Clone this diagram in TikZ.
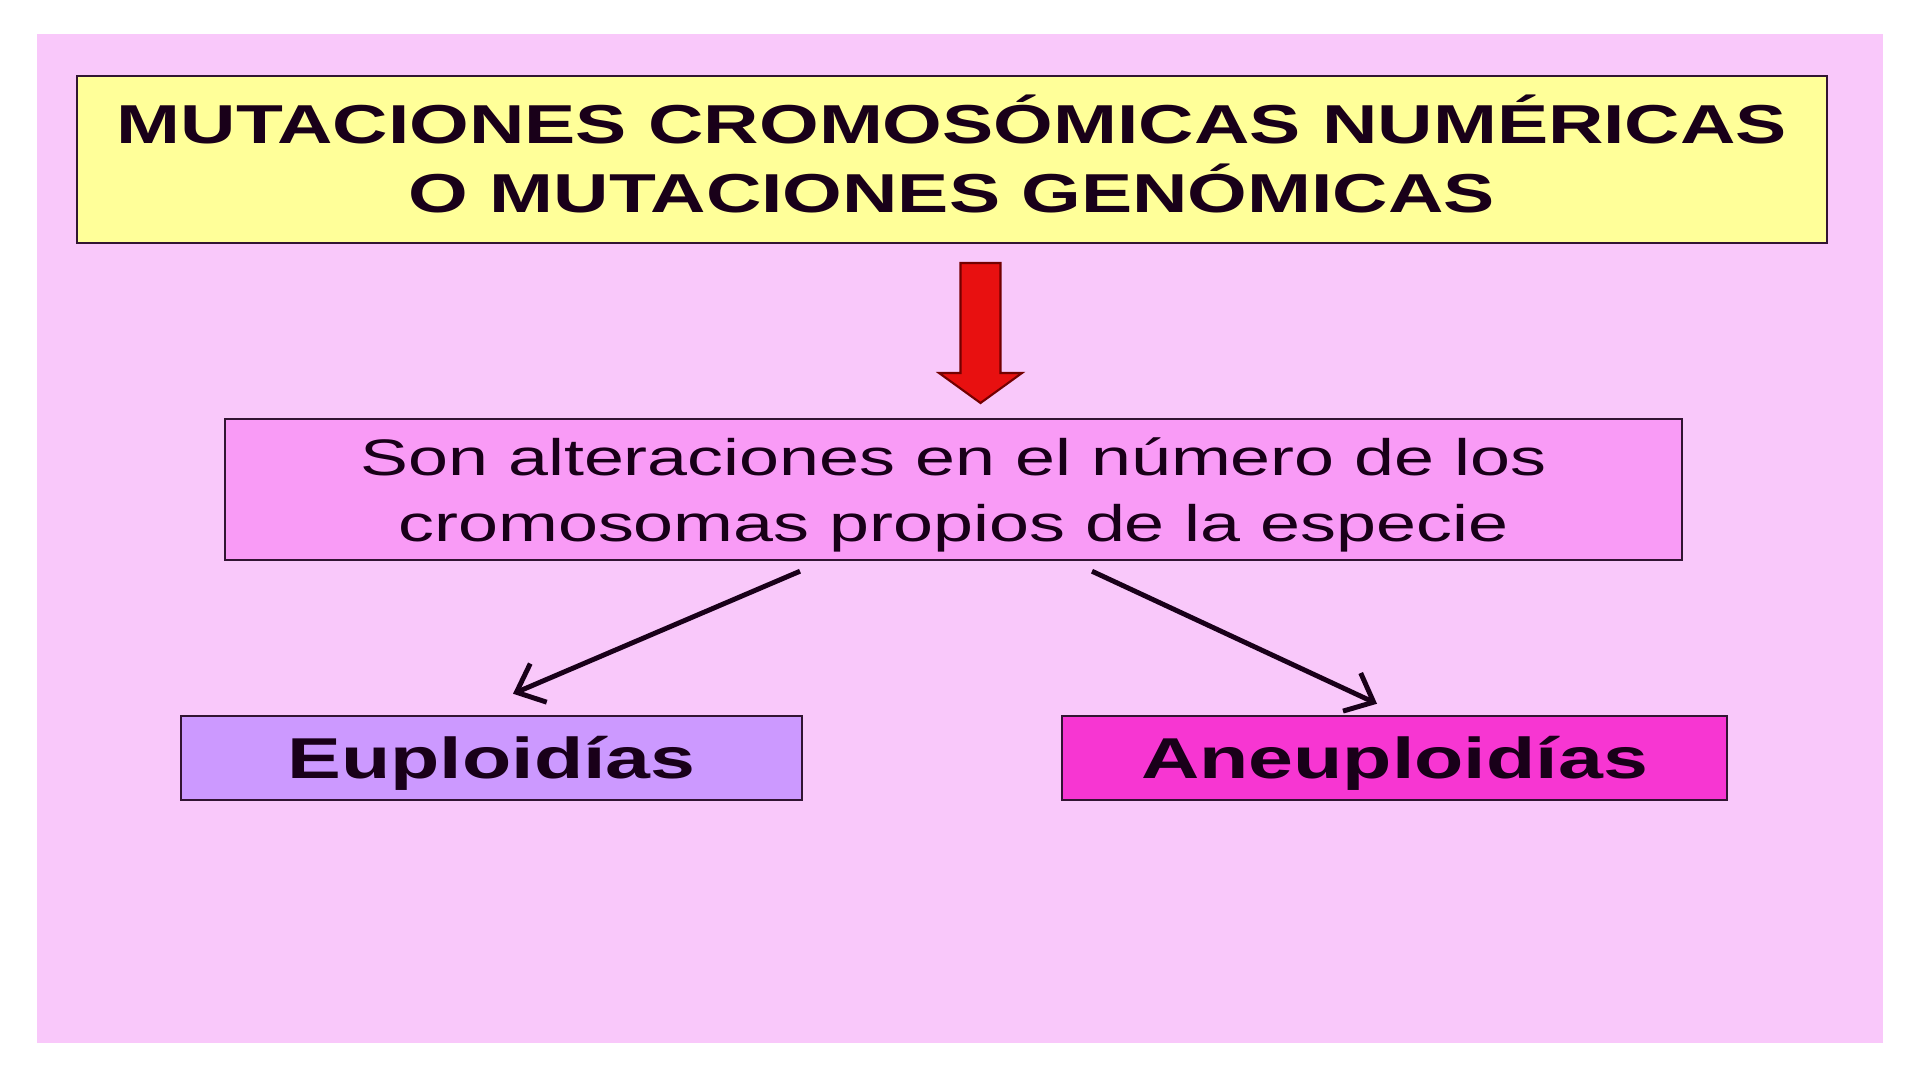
\documentclass[tikz,border=0pt]{standalone}
\usepackage{fontspec}
\setmainfont{Liberation Sans}[FakeStretch=1.4]
\usetikzlibrary{arrows.meta}

\definecolor{slidebg}{RGB}{249,200,250}
\definecolor{titlefill}{RGB}{255,255,153}
\definecolor{deffill}{RGB}{249,155,246}
\definecolor{eupfill}{RGB}{204,153,255}
\definecolor{anefill}{RGB}{247,54,210}
\definecolor{edge}{RGB}{50,20,50}
\definecolor{txt}{RGB}{25,0,25}

% lower a text inside its box, keeping the box size
\newcommand\sunk[2]{\raisebox{-#1}[\height][\depth]{\begin{tabular}{@{}c@{}}#2\end{tabular}}}

\begin{document}
\begin{tikzpicture}[
    box/.style={draw=edge, line width=0.7pt, inner sep=0pt, text=txt},
    link/.style={line width=1.4pt, draw=txt, -{Straight Barb[length=2.4mm,width=4.2mm]}}
  ]
    % Frame
    \fill[white] (0,0) rectangle (19.2,10.8);
    \fill[slidebg] (0.37,0.37) rectangle (18.83,10.46);

    % Title
    \node[box, fill=titlefill, minimum width=17.5cm, minimum height=1.67cm,
          font=\bfseries\fontsize{15.6}{19}\selectfont] (title) at (9.52,9.205)
          {\sunk{0.04cm}{MUTACIONES CROMOSÓMICAS NUMÉRICAS\\O MUTACIONES GENÓMICAS}};

    % Red arrow
    \draw[draw=red!45!black, line width=0.6pt, fill={rgb,255:red,232;green,16;blue,16}]
        (9.605,8.17) -- (10.005,8.17) -- (10.005,7.07) -- (10.22,7.07)
        -- (9.805,6.77) -- (9.39,7.07) -- (9.605,7.07) -- cycle;

    % Definition
    \node[box, fill=deffill, minimum width=14.57cm, minimum height=1.41cm,
          font=\fontsize{14.6}{18.5}\selectfont] (defn) at (9.535,5.905)
          {\sunk{0.06cm}{Son alteraciones en el número de los\\cromosomas propios de la especie}};

    % Types
    \node[box, fill=eupfill, minimum width=6.21cm, minimum height=0.84cm,
          font=\bfseries\fontsize{16.4}{19}\selectfont] (eup) at (4.915,3.22)
          {\sunk{0.07cm}{Euploidías}};
    \node[box, fill=anefill, minimum width=6.65cm, minimum height=0.84cm,
          font=\bfseries\fontsize{16.4}{19}\selectfont] (aneu) at (13.945,3.22)
          {\sunk{0.07cm}{Aneuploidías}};

    % Links
    \draw[link] ([xshift=-1.535cm,yshift=-0.1cm]defn.south) -- ([xshift=0.215cm,yshift=0.21cm]eup.north);
    \draw[link] ([xshift=1.385cm,yshift=-0.1cm]defn.south) -- ([xshift=-0.175cm,yshift=0.11cm]aneu.north);
\end{tikzpicture}
\end{document}
